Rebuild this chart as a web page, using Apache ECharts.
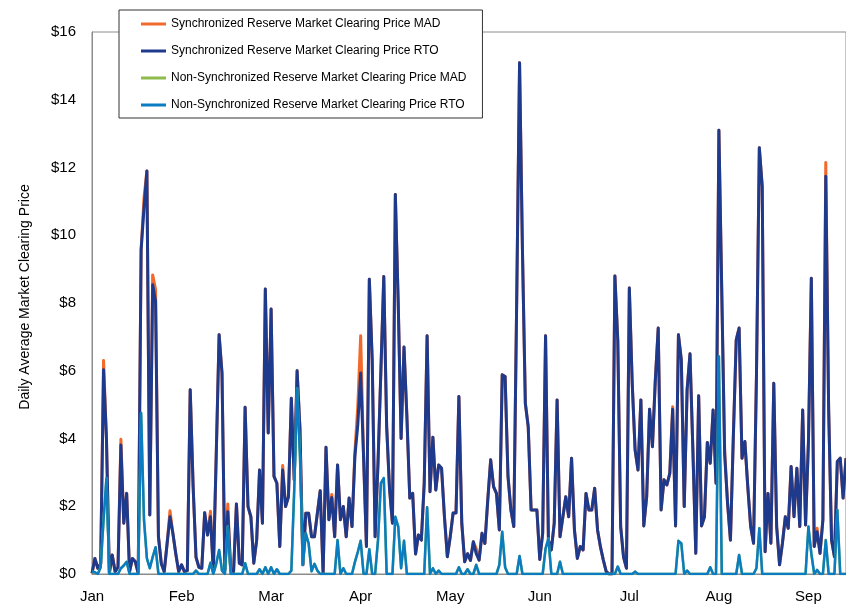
<!DOCTYPE html>
<html>
<head>
<meta charset="utf-8">
<script src="https://cdn.jsdelivr.net/npm/echarts@6/dist/echarts.min.js"></script>
<style>
  html, body { margin: 0; padding: 0; background: #fff; }
  #chartLine { width: 846px; height: 607px; }
</style>
</head>
<body>
<div id="chartLine"></div>
<script>
// month labels, one every 31 daily points
const monthLabels = ['Jan', 'Feb', 'Mar', 'Apr', 'May', 'Jun', 'Jul', 'Aug', 'Sep']
const daysPerLabel = 31

// daily average clearing prices ($/MWh)
const syncMad = [
  0.02, 0.46, 0.17, 0.3, 6.3, 4.0, 0.02, 0.56, 0.07, 0.2,
  3.98, 1.5, 2.38, 0.07, 0.46, 0.36, 0.02, 9.57, 11.1, 11.9,
  1.74, 8.83, 8.4, 1.1, 0.3, 0.07, 0.9, 1.87, 1.2, 0.6,
  0.07, 0.27, 0.07, 0.1, 5.44, 2.6, 0.5, 0.2, 0.17, 1.81,
  1.15, 1.85, 0.07, 3.5, 7.06, 5.93, 0.12, 2.07, 0.12, 0.07,
  2.07, 0.32, 0.27, 4.92, 1.99, 1.69, 0.32, 1.0, 3.07, 1.5,
  8.41, 4.16, 7.82, 2.88, 2.68, 0.81, 3.2, 1.99, 2.28, 5.19,
  2.78, 6.0, 4.25, 0.27, 1.79, 1.79, 1.1, 1.1, 1.79, 2.46,
  0.02, 3.74, 1.6, 2.35, 1.1, 3.22, 1.6, 1.99, 1.1, 2.24,
  1.4, 3.6, 4.94, 7.03, 3.47, 0.81, 8.7, 6.3, 1.1, 3.27,
  6.0, 8.78, 4.35, 2.5, 1.5, 11.2, 8.0, 4.0, 6.7, 4.65,
  2.24, 2.38, 0.59, 1.15, 1.0, 2.68, 7.03, 2.43, 4.04, 2.48,
  3.22, 3.12, 1.69, 0.51, 1.1, 1.8, 1.8, 5.24, 1.5, 0.36,
  0.6, 0.4, 0.95, 0.75, 0.41, 1.2, 0.9, 2.19, 3.37, 2.58,
  2.38, 1.3, 5.88, 5.83, 2.88, 1.89, 1.4, 8.0, 15.09, 9.57,
  5.04, 4.35, 1.89, 1.89, 1.89, 0.43, 1.2, 7.03, 1.0, 0.71,
  1.5, 5.14, 1.1, 1.69, 2.28, 1.69, 3.42, 1.3, 0.46, 0.81,
  0.71, 2.38, 1.89, 1.89, 2.53, 1.3, 0.8, 0.41, 0.07, 0.0,
  0.0, 8.8, 6.9, 1.4, 0.5, 0.17, 8.44, 5.63, 3.66, 3.07,
  5.14, 1.42, 2.28, 4.86, 3.76, 5.73, 7.26, 1.89, 2.78, 2.63,
  2.97, 4.94, 1.42, 7.06, 6.32, 1.99, 5.44, 6.5, 3.66, 0.61,
  5.26, 1.42, 1.69, 3.88, 3.27, 4.84, 2.68, 13.1, 8.3, 3.66,
  2.09, 1.0, 4.06, 6.91, 7.26, 3.42, 3.91, 2.58, 1.4, 0.91,
  5.83, 12.58, 11.44, 0.66, 2.38, 0.91, 5.63, 1.4, 0.27, 0.91,
  1.69, 1.35, 3.17, 1.69, 3.12, 1.4, 4.84, 1.45, 3.9, 8.73,
  0.81, 1.35, 0.61, 1.6, 12.15, 4.84, 1.0, 0.51, 3.32, 3.42,
  2.24, 3.42
]

const syncRto = [
  0.02, 0.46, 0.17, 0.3, 6.03, 4.0, 0.02, 0.56, 0.07, 0.2,
  3.81, 1.5, 2.38, 0.07, 0.46, 0.36, 0.02, 9.57, 10.8, 11.9,
  1.74, 8.54, 8.05, 1.1, 0.3, 0.07, 0.9, 1.69, 1.2, 0.6,
  0.07, 0.27, 0.07, 0.1, 5.44, 2.6, 0.5, 0.2, 0.17, 1.81,
  1.15, 1.69, 0.07, 3.5, 7.06, 5.93, 0.12, 1.84, 0.12, 0.07,
  2.07, 0.32, 0.27, 4.92, 1.99, 1.69, 0.32, 1.0, 3.07, 1.5,
  8.41, 4.16, 7.82, 2.88, 2.68, 0.81, 3.07, 1.99, 2.28, 5.19,
  2.78, 6.0, 4.25, 0.27, 1.79, 1.79, 1.1, 1.1, 1.79, 2.46,
  0.02, 3.74, 1.6, 2.26, 1.1, 3.22, 1.6, 1.99, 1.1, 2.24,
  1.4, 3.47, 4.4, 5.93, 3.47, 0.81, 8.7, 6.3, 1.1, 3.27,
  6.0, 8.78, 4.35, 2.5, 1.5, 11.2, 8.0, 4.0, 6.7, 4.65,
  2.24, 2.38, 0.59, 1.15, 1.0, 2.68, 7.03, 2.43, 4.04, 2.48,
  3.22, 3.12, 1.69, 0.51, 1.1, 1.8, 1.8, 5.24, 1.5, 0.36,
  0.6, 0.4, 0.95, 0.6, 0.41, 1.2, 0.9, 2.19, 3.37, 2.58,
  2.38, 1.3, 5.88, 5.83, 2.88, 1.89, 1.4, 8.0, 15.09, 9.57,
  5.04, 4.35, 1.89, 1.89, 1.89, 0.43, 1.2, 7.03, 1.0, 0.71,
  1.5, 5.14, 1.1, 1.69, 2.28, 1.69, 3.42, 1.3, 0.46, 0.81,
  0.71, 2.38, 1.89, 1.89, 2.53, 1.3, 0.8, 0.41, 0.07, 0.0,
  0.0, 8.8, 6.9, 1.4, 0.5, 0.17, 8.44, 5.63, 3.66, 3.07,
  5.14, 1.42, 2.28, 4.86, 3.76, 5.73, 7.26, 1.89, 2.78, 2.63,
  2.97, 4.86, 1.42, 7.06, 6.32, 1.99, 5.44, 6.5, 3.66, 0.61,
  5.26, 1.42, 1.69, 3.88, 3.27, 4.84, 2.68, 13.1, 8.3, 3.52,
  2.09, 1.0, 4.06, 6.91, 7.26, 3.42, 3.91, 2.58, 1.4, 0.91,
  5.83, 12.58, 11.44, 0.66, 2.38, 0.91, 5.63, 1.4, 0.27, 0.91,
  1.69, 1.35, 3.17, 1.69, 3.12, 1.4, 4.84, 1.45, 3.9, 8.73,
  0.81, 1.25, 0.61, 1.6, 11.74, 4.84, 1.0, 0.51, 3.32, 3.42,
  2.24, 3.42
]

// non-synchronized MAD sits exactly under the RTO line
const nonSyncMad = [
  0.07, 0.05, 0, 0.2, 1.6, 2.83, 0, 0, 0, 0,
  0.17, 0.25, 0.36, 0, 0, 0, 0, 4.75, 1.6, 0.46,
  0.17, 0.5, 0.79, 0, 0, 0, 0, 0, 0, 0,
  0, 0, 0, 0, 0, 0, 0.1, 0, 0, 0,
  0, 0.33, 0, 0.3, 0.71, 0.1, 0, 1.4, 0, 0,
  0, 0, 0, 0.32, 0, 0, 0, 0, 0.14, 0,
  0.2, 0, 0.2, 0, 0.14, 0, 0, 0, 0, 0.1,
  2.48, 5.48, 3.47, 0.27, 1.2, 0.9, 0.08, 0.3, 0.1, 0,
  0, 0, 0, 0, 0, 1.0, 0, 0.17, 0, 0,
  0, 0.35, 0.65, 0.98, 0, 0, 0.73, 0, 0, 1.0,
  2.68, 2.83, 0, 0, 0, 1.69, 1.4, 0.17, 0.98, 0,
  0, 0, 0, 0, 0, 0, 1.97, 0, 0.17, 0,
  0.1, 0, 0, 0, 0, 0, 0, 0.2, 0, 0,
  0.14, 0, 0, 0.27, 0, 0, 0, 0, 0, 0,
  0, 0.27, 1.25, 0.2, 0, 0, 0, 0, 0.53, 0,
  0, 0, 0, 0, 0, 0, 0, 0.75, 1.05, 0,
  0, 0, 0.36, 0, 0, 0, 0, 0, 0, 0,
  0, 0, 0, 0, 0, 0, 0, 0, 0, 0,
  0, 0, 0.22, 0, 0, 0, 0, 0, 0.07, 0,
  0, 0, 0, 0, 0, 0, 0, 0, 0, 0,
  0, 0, 0, 0.98, 0.9, 0, 0.1, 0, 0, 0,
  0, 0, 0, 0, 0.2, 0, 0, 6.42, 0, 0,
  0, 0, 0, 0, 0.56, 0, 0, 0, 0, 0,
  0.17, 1.35, 0, 0, 0, 0, 0, 0, 0, 0,
  0, 0, 0, 0, 0, 0, 0, 0, 1.4, 0.6,
  0, 0.12, 0, 0, 1.0, 0, 0, 0, 1.89, 0,
  0, 0
]

const nonSyncRto = [
  0.07, 0.05, 0, 0.2, 1.6, 2.83, 0, 0, 0, 0,
  0.17, 0.25, 0.36, 0, 0, 0, 0, 4.75, 1.6, 0.46,
  0.17, 0.5, 0.79, 0, 0, 0, 0, 0, 0, 0,
  0, 0, 0, 0, 0, 0, 0.1, 0, 0, 0,
  0, 0.33, 0, 0.3, 0.71, 0.1, 0, 1.4, 0, 0,
  0, 0, 0, 0.32, 0, 0, 0, 0, 0.14, 0,
  0.2, 0, 0.2, 0, 0.14, 0, 0, 0, 0, 0.1,
  2.48, 5.48, 3.47, 0.27, 1.2, 0.9, 0.08, 0.3, 0.1, 0,
  0, 0, 0, 0, 0, 1.0, 0, 0.17, 0, 0,
  0, 0.35, 0.65, 0.98, 0, 0, 0.73, 0, 0, 1.0,
  2.68, 2.83, 0, 0, 0, 1.69, 1.4, 0.17, 0.98, 0,
  0, 0, 0, 0, 0, 0, 1.97, 0, 0.17, 0,
  0.1, 0, 0, 0, 0, 0, 0, 0.2, 0, 0,
  0.14, 0, 0, 0.27, 0, 0, 0, 0, 0, 0,
  0, 0.27, 1.25, 0.2, 0, 0, 0, 0, 0.53, 0,
  0, 0, 0, 0, 0, 0, 0, 0.75, 1.05, 0,
  0, 0, 0.36, 0, 0, 0, 0, 0, 0, 0,
  0, 0, 0, 0, 0, 0, 0, 0, 0, 0,
  0, 0, 0.22, 0, 0, 0, 0, 0, 0.07, 0,
  0, 0, 0, 0, 0, 0, 0, 0, 0, 0,
  0, 0, 0, 0.98, 0.9, 0, 0.1, 0, 0, 0,
  0, 0, 0, 0, 0.2, 0, 0, 6.42, 0, 0,
  0, 0, 0, 0, 0.56, 0, 0, 0, 0, 0,
  0.17, 1.35, 0, 0, 0, 0, 0, 0, 0, 0,
  0, 0, 0, 0, 0, 0, 0, 0, 1.4, 0.6,
  0, 0.12, 0, 0, 1.0, 0, 0, 0, 1.89, 0,
  0, 0
]

const seriesNames = [
  'Synchronized Reserve Market Clearing Price MAD',
  'Synchronized Reserve Market Clearing Price RTO',
  'Non-Synchronized Reserve Market Clearing Price MAD',
  'Non-Synchronized Reserve Market Clearing Price RTO'
]

const font = "'Liberation Sans', Arial, sans-serif"
const days = syncRto.map((v, i) => String(i))

const chartDom = document.getElementById('chartLine')
const myChart = echarts.init(chartDom)

const lineSeries = (name, data, color, width) => ({
  name: name,
  type: 'line',
  data: data,
  symbol: 'none',
  color: color,
  lineStyle: { width: width, color: color, join: 'round' }
})

let option = {}
option = {
  animation: false,
  backgroundColor: '#fff',
  grid: {
    left: 92,
    top: 32,
    right: -1,
    bottom: 33,
    show: true,
    borderColor: '#8c8c8c',
    borderWidth: 1
  },
  legend: {
    orient: 'vertical',
    left: 119,
    top: 10,
    padding: [6, 16, 5, 22],
    itemGap: 11,
    itemWidth: 25,
    itemHeight: 3,
    icon: 'rect',
    backgroundColor: '#fff',
    borderColor: '#333',
    borderWidth: 1,
    textStyle: { fontFamily: font, fontSize: 12, color: '#000', lineHeight: 16 },
    data: seriesNames
  },
  xAxis: {
    type: 'category',
    boundaryGap: false,
    data: days,
    axisLine: { lineStyle: { color: '#8c8c8c', width: 1 } },
    axisTick: { show: false },
    axisLabel: {
      interval: (index) => index % daysPerLabel === 0,
      formatter: (value, index) => monthLabels[index / daysPerLabel],
      fontFamily: font,
      fontSize: 15,
      color: '#000',
      margin: 15
    },
    splitLine: { show: false }
  },
  yAxis: {
    type: 'value',
    min: 0,
    max: 16,
    interval: 2,
    name: 'Daily Average Market Clearing Price',
    nameLocation: 'middle',
    nameGap: 60,
    nameTextStyle: { fontFamily: font, fontSize: 14, color: '#000', padding: [0, 0, 0, 12] },
    axisLine: { show: true, lineStyle: { color: '#8c8c8c', width: 1 } },
    axisTick: { show: false },
    axisLabel: {
      formatter: (value) => '$' + value,
      fontFamily: font,
      fontSize: 15,
      color: '#000',
      margin: 16
    },
    splitLine: { show: false }
  },
  series: [
    lineSeries(seriesNames[0], syncMad, '#F26A2B', 3),
    lineSeries(seriesNames[1], syncRto, '#1E3A8C', 3),
    lineSeries(seriesNames[2], nonSyncMad, '#8DBB4C', 2.5),
    lineSeries(seriesNames[3], nonSyncRto, '#0A7DC2', 2.5)
  ]
}
option && myChart.setOption(option)
</script>
</body>
</html>
